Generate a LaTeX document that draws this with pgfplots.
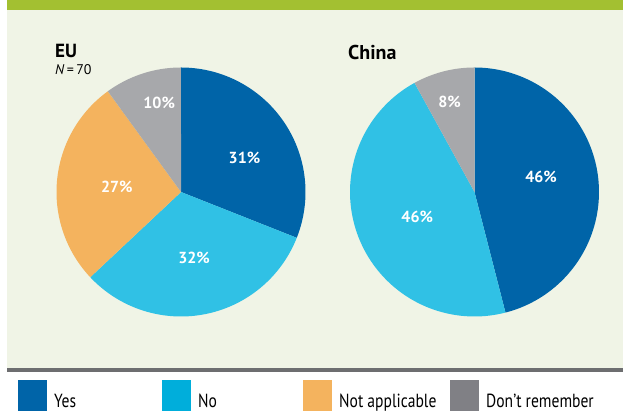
\documentclass[border=0pt]{standalone}
\usepackage{pgfplots}
\pgfplotsset{compat=1.18}
\usepackage{graphicx}
\usepackage{fontspec}
\setmainfont{PT Sans}

\definecolor{cYes}{HTML}{0064A8}
\definecolor{cNo}{HTML}{30C1E5}
\definecolor{cNoKey}{HTML}{00AEDB}
\definecolor{cNA}{HTML}{F4B35E}
\definecolor{cDR}{HTML}{A7A8AB}
\definecolor{cDRKey}{HTML}{808085}
\definecolor{topbar}{HTML}{A3C031}
\definecolor{panel}{HTML}{F0F4E6}
\definecolor{rule}{HTML}{6D6E70}

% one slice of a pie, running clockwise from 12 o'clock, between two cumulative percentages
\newcommand{\pieslice}[3]{%
  \addplot[fill=#3, draw=none, domain=#1:#2, samples=90]
    ({sin(3.6*x)},{cos(3.6*x)}) -- (axis cs:0,0) -- cycle;}
% a percentage label inside a pie
\newcommand{\pielabel}[3]{%
  \node[text=white, font=\fontsize{16}{16}\selectfont\bfseries] at (axis cs:#1,#2) {#3\%};}

\pgfplotsset{pie/.style={
  anchor=south west, width=249pt, height=249pt, scale only axis,
  xmin=-1, xmax=1, ymin=-1, ymax=1, hide axis, clip=false}}

\begin{document}
\begin{tikzpicture}[x=1pt, y=1pt]
  \useasboundingbox (0,0) rectangle (623,411);
  \fill[white] (0,0) rectangle (623,411);
  \fill[panel] (7,43) rectangle (623,401);
  \fill[topbar] (7,401) rectangle (623,411);
  \fill[rule] (7,39) rectangle (623,43);

  % EU: Yes 31, No 32, Not applicable 27, Don't remember 10
  \begin{axis}[pie, at={(56.5pt,94.5pt)}]
    \pieslice{0}{31}{cYes}
    \pieslice{31}{63}{cNo}
    \pieslice{63}{90}{cNA}
    \pieslice{90}{100}{cDR}
    \pielabel{0.51}{0.275}{31}
    \pielabel{0.105}{-0.53}{32}
    \pielabel{-0.515}{0.04}{27}
    \pielabel{-0.175}{0.715}{10}
  \end{axis}

  % China: Yes 46, No 46, Don't remember 8
  \begin{axis}[pie, at={(350pt,94.5pt)}]
    \pieslice{0}{46}{cYes}
    \pieslice{46}{92}{cNo}
    \pieslice{92}{100}{cDR}
    \pielabel{0.535}{0.12}{46}
    \pielabel{-0.46}{-0.2}{46}
    \pielabel{-0.2}{0.72}{8}
  \end{axis}

  \node[anchor=base west, inner sep=0pt, font=\fontsize{19}{19}\selectfont\bfseries] at (55,353) {EU};
  \node[anchor=base west, inner sep=0pt, font=\fontsize{14}{14}\selectfont] at (55,336) {\textit{N}\,=\,70};
  \node[anchor=base west, inner sep=0pt, font=\fontsize{20}{20}\selectfont\bfseries] at (348,351) {China};

  % key
  \foreach \x/\c/\t in {18/cYes/Yes, 162/cNoKey/No, 303/cNA/Not applicable, 450/cDRKey/Don’t remember}{
    \fill[\c] (\x,0) rectangle ++(29,31);
    \node[anchor=base west, inner sep=0pt, font=\fontsize{19}{19}\selectfont] at (\x+36,3) {\scalebox{0.82}[1]{\t}};
  }
\end{tikzpicture}
\end{document}
